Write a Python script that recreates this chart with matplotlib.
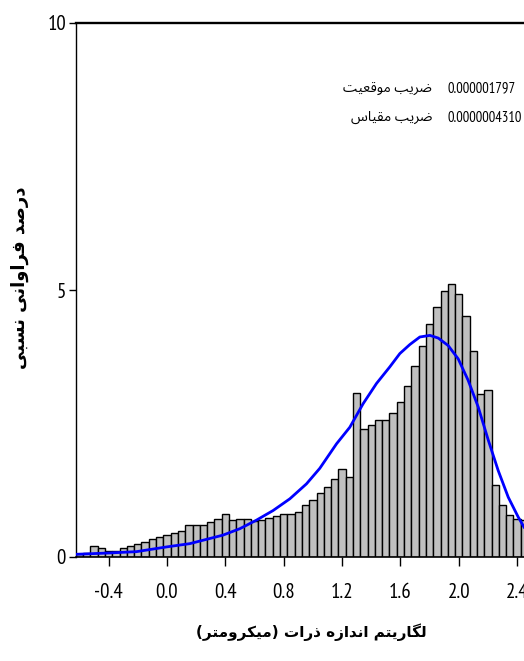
import matplotlib
matplotlib.use("Agg")
import matplotlib.pyplot as plt
import numpy as np

plt.rcParams['font.family'] = ['PT Sans Narrow', 'DejaVu Sans']
plt.rcParams['axes.unicode_minus'] = False

# ---------------- data ----------------
bin_centers = [-0.60, -0.55, -0.50, -0.45, -0.40, -0.35, -0.30, -0.25, -0.20, -0.15,
               -0.10, -0.05, 0.00, 0.05, 0.10, 0.15, 0.20, 0.25, 0.30, 0.35,
               0.40, 0.45, 0.50, 0.55, 0.60, 0.65, 0.70, 0.75, 0.80, 0.85,
               0.90, 0.95, 1.00, 1.05, 1.10, 1.15, 1.20, 1.25, 1.30, 1.35,
               1.40, 1.45, 1.50, 1.55, 1.60, 1.65, 1.70, 1.75, 1.80, 1.85,
               1.90, 1.95, 2.00, 2.05, 2.10, 2.15, 2.20, 2.25, 2.30, 2.35,
               2.40, 2.45]
bin_heights = [0.06, 0.08, 0.21, 0.16, 0.11, 0.12, 0.17, 0.21, 0.25, 0.29,
               0.33, 0.37, 0.41, 0.45, 0.49, 0.59, 0.59, 0.59, 0.65, 0.72,
               0.81, 0.69, 0.72, 0.72, 0.68, 0.69, 0.73, 0.76, 0.81, 0.81,
               0.85, 0.97, 1.06, 1.19, 1.31, 1.47, 1.64, 1.50, 3.07, 2.39,
               2.48, 2.56, 2.56, 2.70, 2.90, 3.20, 3.58, 3.96, 4.36, 4.69,
               4.98, 5.11, 4.93, 4.51, 3.85, 3.05, 3.12, 1.34, 0.97, 0.79,
               0.72, 0.70]
bin_width = 0.05

fit_x = [-0.628, -0.40, -0.21, 0.0, 0.156, 0.27, 0.384, 0.499, 0.613, 0.727,
         0.842, 0.956, 1.047, 1.162, 1.253, 1.344, 1.436, 1.527, 1.596, 1.665,
         1.733, 1.802, 1.859, 1.927, 1.996, 2.064, 2.133, 2.202, 2.27, 2.339,
         2.407, 2.447]
fit_y = [0.05, 0.075, 0.10, 0.19, 0.25, 0.33, 0.41, 0.53, 0.69, 0.87,
         1.09, 1.37, 1.66, 2.12, 2.43, 2.87, 3.25, 3.56, 3.81, 3.98,
         4.12, 4.15, 4.10, 3.96, 3.71, 3.31, 2.81, 2.19, 1.62, 1.12,
         0.75, 0.56]

x_ticks = [-0.4, 0.0, 0.4, 0.8, 1.2, 1.6, 2.0, 2.4]
y_ticks = [0, 5, 10]

ylabel_text = "درصد فراوانی نسبی"
xlabel_text = "لگاریتم اندازه ذرات (میکرومتر)"
param_names = ["ضریب موقعیت", "ضریب مقیاس"]
param_values = ["0.000001797", "0.0000004310"]

# ------------- simple Arabic/Persian shaping -------------
FORMS = {
    'ا': ('\uFE8D', '\uFE8E', None, None),
    'ب': ('\uFE8F', '\uFE90', '\uFE91', '\uFE92'),
    'ت': ('\uFE95', '\uFE96', '\uFE97', '\uFE98'),
    'د': ('\uFEA9', '\uFEAA', None, None),
    'ذ': ('\uFEAB', '\uFEAC', None, None),
    'ر': ('\uFEAD', '\uFEAE', None, None),
    'ز': ('\uFEAF', '\uFEB0', None, None),
    'س': ('\uFEB1', '\uFEB2', '\uFEB3', '\uFEB4'),
    'ص': ('\uFEB9', '\uFEBA', '\uFEBB', '\uFEBC'),
    'ض': ('\uFEBD', '\uFEBE', '\uFEBF', '\uFEC0'),
    'ع': ('\uFEC9', '\uFECA', '\uFECB', '\uFECC'),
    'ف': ('\uFED1', '\uFED2', '\uFED3', '\uFED4'),
    'ق': ('\uFED5', '\uFED6', '\uFED7', '\uFED8'),
    'ل': ('\uFEDD', '\uFEDE', '\uFEDF', '\uFEE0'),
    'م': ('\uFEE1', '\uFEE2', '\uFEE3', '\uFEE4'),
    'ن': ('\uFEE5', '\uFEE6', '\uFEE7', '\uFEE8'),
    'ه': ('\uFEE9', '\uFEEA', '\uFEEB', '\uFEEC'),
    'و': ('\uFEED', '\uFEEE', None, None),
    'ی': ('\uFBFC', '\uFBFD', '\uFBFE', '\uFBFF'),
    'ک': ('\uFB8E', '\uFB8F', '\uFB90', '\uFB91'),
    'گ': ('\uFB92', '\uFB93', '\uFB94', '\uFB95'),
}


def shape(text):
    chars = list(text)
    out = []
    for i, c in enumerate(chars):
        if c not in FORMS:
            out.append(c)
            continue
        iso, fin, ini, med = FORMS[c]
        prev = chars[i - 1] if i > 0 else None
        nxt = chars[i + 1] if i + 1 < len(chars) else None
        cp = prev in FORMS and FORMS[prev][2] is not None
        cn = nxt in FORMS and ini is not None
        if cp and cn:
            f = med
        elif cp:
            f = fin
        elif cn:
            f = ini
        else:
            f = iso
        out.append(f)
    vis = ''.join(reversed(out))
    return vis.translate(str.maketrans('()', ')('))


AR_FONT = ['Noto Sans Arabic', 'DejaVu Sans']
AR_BOLD = ['DejaVu Sans']

# ---------------- figure ----------------
W, H = 524, 661
fig = plt.figure(figsize=(W / 100, H / 100), dpi=100)
ax = fig.add_axes([75.7 / W, 1 - 557 / H, 1 - 75.7 / W, (557 - 23) / H])

ax.bar(bin_centers, bin_heights, width=bin_width, color='#c0c0c0',
       edgecolor='black', linewidth=1.0, zorder=2)
ax.plot(fit_x, fit_y, color='#0000ff', linewidth=2.0, zorder=3)

ax.set_xlim(-0.626, 2.447)
ax.set_ylim(0, 10)
ax.set_xticks(x_ticks)
ax.set_xticklabels([f"{v:.1f}" for v in x_ticks])
ax.set_yticks(y_ticks)
ax.set_yticklabels([str(v) for v in y_ticks])

ax.spines['right'].set_visible(False)
ax.spines['top'].set_linewidth(1.7)
ax.spines['left'].set_linewidth(1.0)
ax.spines['bottom'].set_linewidth(1.2)

ax.tick_params(axis='x', direction='out', length=6.5, width=1.0, pad=12,
               labelsize=15)
ax.tick_params(axis='y', direction='out', length=5, width=1.0, pad=2,
               labelsize=15)

# parameter annotation
for i, (nm, val) in enumerate(zip(param_names, param_values)):
    yy = 0.878 - i * 0.055
    ax.text(0.795, yy, shape(nm), transform=ax.transAxes, ha='right',
            va='center', fontsize=10, family=AR_FONT)
    ax.text(0.830, yy, val, transform=ax.transAxes, ha='left',
            va='center', fontsize=10.5)

fig.text(311 / W, 1 - 632 / H, shape(xlabel_text), ha='center', va='center',
         fontsize=11, fontweight='bold', family=AR_BOLD)
fig.text(20 / W, 1 - 278 / H, shape(ylabel_text), ha='center', va='center',
         rotation=90, fontsize=13, fontweight='bold', family=AR_BOLD)

fig.savefig('out.png', dpi=100)
